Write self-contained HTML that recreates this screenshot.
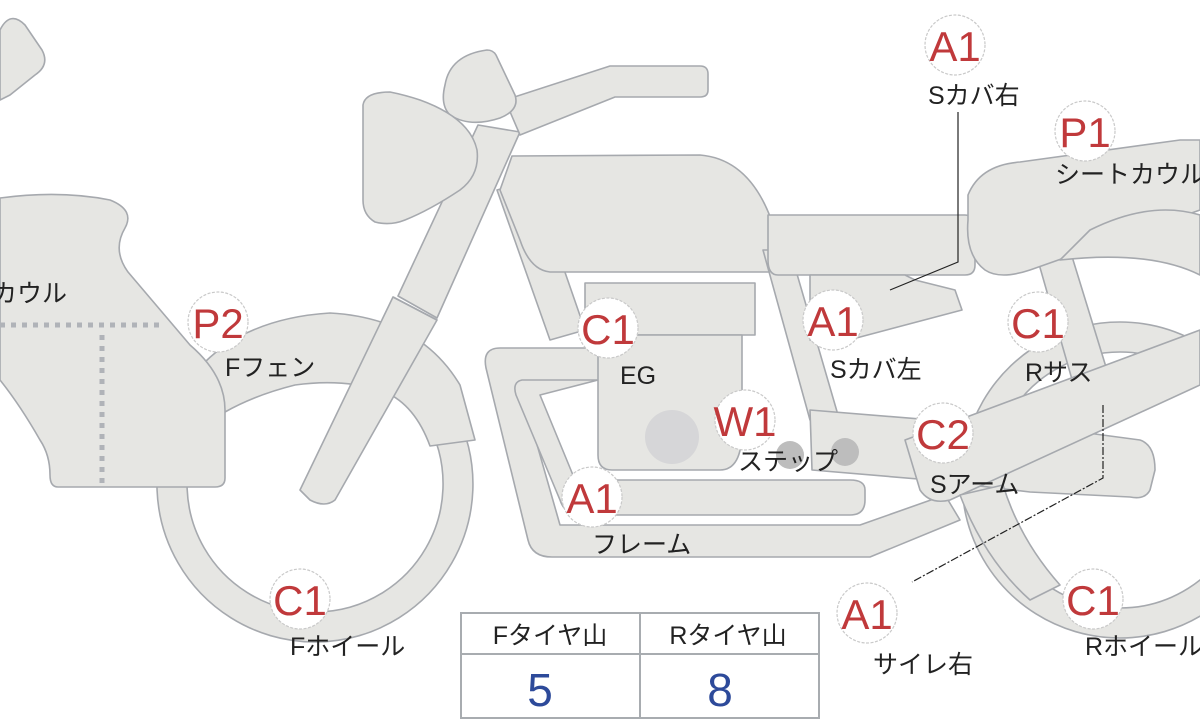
<!DOCTYPE html>
<html><head><meta charset="utf-8"><style>
html,body{margin:0;padding:0;background:#fff;}
svg{display:block;}
.b{fill:#fff;stroke:#c9c9c9;stroke-width:1.2;stroke-dasharray:3 1.5;}
.bt{font-family:"Liberation Sans","Noto Sans CJK JP",sans-serif;font-size:42px;fill:#c0393b;text-anchor:middle;}
.lt{font-family:"Liberation Sans","Noto Sans CJK JP",sans-serif;font-size:25px;fill:#222;}
</style></head><body>
<svg width="1200" height="720" viewBox="0 0 1200 720" xmlns="http://www.w3.org/2000/svg">
<g fill="#e6e6e3" stroke="#a6a9ae" stroke-width="1.6" stroke-linejoin="round">
<!-- rear wheel ring -->
<path fill-rule="evenodd" d="M1120,322 A158,158 0 1,1 1119.9,322 Z M1120,352 A128,128 0 1,0 1120.1,352 Z"/>
<!-- front wheel ring -->
<path fill-rule="evenodd" d="M315,326 A158,158 0 1,1 314.9,326 Z M315,356 A128,128 0 1,0 315.1,356 Z"/>
<!-- top-left blob -->
<path d="M0,30 Q10,10 25,25 L42,50 Q50,65 35,75 L10,95 L0,100 Z"/>
<!-- front fender -->
<path d="M205,362 Q250,318 330,313 Q420,318 460,385 L475,440 L430,446 Q415,405 385,392 Q345,378 295,385 Q255,395 225,412 Z"/>
<!-- cowl -->
<path d="M0,198 Q60,190 110,200 Q135,210 125,228 Q112,250 128,272 L190,345 Q225,375 225,410 L225,478 Q225,487 215,487 L58,487 Q50,487 50,475 Q50,455 40,440 Q20,405 0,380 Z"/>
<!-- fork lower -->
<path d="M393,297 L437,320 L335,500 Q325,508 310,500 L300,490 Z"/>
<!-- fork upper -->
<path d="M398,296 L478,125 L520,132 L437,318 Z"/>
<path d="M393,297 L437,320"/>
<!-- frame down tube -->
<path d="M497,190 L533,180 L585,330 L550,340 Z"/>
<!-- handlebar -->
<path d="M505,100 L610,66 L700,66 Q708,66 708,74 L708,90 Q708,97 700,97 L615,97 L520,135 Z"/>
<!-- mirror -->
<path d="M445,85 Q450,55 487,50 Q493,50 496,55 L515,95 Q520,110 500,118 Q470,128 450,115 Q440,105 445,85 Z"/>
<!-- headlight -->
<path d="M363,105 Q365,92 390,92 Q405,95 420,100 Q470,118 477,150 Q480,175 460,190 Q430,210 405,220 Q390,226 375,222 Q363,215 363,200 Z"/>
<!-- tank -->
<path d="M512,156 L700,155 Q760,160 780,250 L783,272 L550,272 Q530,270 520,240 L500,190 Z"/>
<!-- rear frame tubes -->
<path d="M763,250 L790,250 L838,415 L810,420 Z"/>
<path d="M1035,250 L1070,250 L1110,380 L1075,390 Z"/>
<!-- frame loop outer -->
<path d="M600,348 L500,348 Q482,348 486,368 L528,540 Q532,557 552,557 L870,557 L960,520 L945,495 L860,525 L560,525 L520,385 L600,380 Z"/>
<!-- exhaust -->
<path d="M598,380 L522,380 Q512,382 516,395 L560,500 Q565,515 580,515 L850,515 Q865,515 865,500 L865,490 Q865,480 850,480 L575,480 L540,395 Z"/>
<!-- side cover under tank -->
<path d="M585,283 L755,283 L755,335 L585,335 Z"/>
<!-- engine -->
<path d="M598,335 L742,335 L742,430 Q742,470 720,470 L612,470 Q598,470 598,455 Z"/>
<!-- seat -->
<path d="M768,215 L965,215 Q975,215 975,230 L975,265 Q975,275 965,275 L778,275 Q768,275 768,260 Z"/>
<!-- side cover left -->
<path d="M810,275 L905,275 L915,280 L955,290 L962,310 L830,345 L810,340 Z"/>
<!-- seat cowl -->
<path d="M968,195 Q980,165 1020,162 L1180,140 L1200,140 L1200,210 L1030,270 Q1000,280 985,270 Q965,255 968,220 Z"/>
<!-- rear fender top arc -->
<path d="M1060,260 Q1150,250 1200,275 L1200,215 Q1150,200 1090,230 Z"/>
<!-- swingarm -->
<path d="M810,410 L1080,432 L1140,440 Q1155,445 1155,470 L1150,490 Q1145,500 1130,497 L1030,492 L930,480 L812,470 Z"/>
<!-- rear shock / big diagonal -->
<path d="M905,440 L1200,330 L1200,385 L950,500 Q930,505 920,490 Z"/>
<path d="M960,495 L1003,485 Q1020,540 1060,585 L1030,600 Q985,560 960,495 Z"/>
</g>
<!-- engine circle -->
<circle cx="672" cy="437" r="27" fill="#d6d6d8"/>
<!-- step pegs -->
<circle cx="790" cy="455" r="14" fill="#bdbdbd"/>
<circle cx="845" cy="452" r="14" fill="#bdbdbd"/>
<!-- dotted lines on cowl -->
<g stroke="#b0b3b8" stroke-width="5" stroke-dasharray="5 6" fill="none">
<line x1="0" y1="325" x2="165" y2="325"/>
<line x1="102" y1="335" x2="102" y2="485"/>
</g>
<!-- leader lines -->
<g stroke="#222" fill="none" stroke-width="1.2">
<polyline points="958,112 958,262 890,290"/>
<polyline points="1103,405 1103,478 912,582" stroke-dasharray="8 2 2 2"/>
</g>
<!-- table -->
<g fill="#fff" stroke="#a8acb0" stroke-width="2">
<rect x="461" y="613" width="358" height="105"/>
<line x1="461" y1="654" x2="819" y2="654"/>
<line x1="640" y1="613" x2="640" y2="718"/>
</g>
<g class="lt" text-anchor="middle">
<text x="550" y="644">Fタイヤ山</text>
<text x="728" y="644">Rタイヤ山</text>
</g>
<g font-family="Liberation Sans,sans-serif" font-size="46" fill="#2d4a9a" text-anchor="middle">
<text x="540" y="706">5</text>
<text x="720" y="706">8</text>
</g>
<!-- badges -->
<g>
<circle class="b" cx="955" cy="45" r="30"/><text class="bt" x="955" y="61">A1</text>
<circle class="b" cx="1085" cy="131" r="30"/><text class="bt" x="1085" y="147">P1</text>
<circle class="b" cx="218" cy="322" r="30"/><text class="bt" x="218" y="338">P2</text>
<circle class="b" cx="608" cy="328" r="30"/><text class="bt" x="608" y="344">C1</text>
<circle class="b" cx="833" cy="320" r="30"/><text class="bt" x="833" y="336">A1</text>
<circle class="b" cx="1038" cy="322" r="30"/><text class="bt" x="1038" y="338">C1</text>
<circle class="b" cx="745" cy="420" r="30"/><text class="bt" x="745" y="436">W1</text>
<circle class="b" cx="943" cy="433" r="30"/><text class="bt" x="943" y="449">C2</text>
<circle class="b" cx="592" cy="497" r="30"/><text class="bt" x="592" y="513">A1</text>
<circle class="b" cx="300" cy="599" r="30"/><text class="bt" x="300" y="615">C1</text>
<circle class="b" cx="867" cy="613" r="30"/><text class="bt" x="867" y="629">A1</text>
<circle class="b" cx="1093" cy="599" r="30"/><text class="bt" x="1093" y="615">C1</text>
</g>
<!-- labels -->
<g class="lt">
<text x="928" y="104">Sカバ右</text>
<text x="1055" y="183">シートカウル</text>
<text x="-8" y="302">カウル</text>
<text x="225" y="376">Fフェン</text>
<text x="620" y="384">EG</text>
<text x="830" y="378">Sカバ左</text>
<text x="1025" y="381">Rサス</text>
<text x="738" y="470">ステップ</text>
<text x="930" y="493">Sアーム</text>
<text x="592" y="553">フレーム</text>
<text x="290" y="655">Fホイール</text>
<text x="873" y="673">サイレ右</text>
<text x="1085" y="655">Rホイール</text>
</g>
</svg>
</body></html>
